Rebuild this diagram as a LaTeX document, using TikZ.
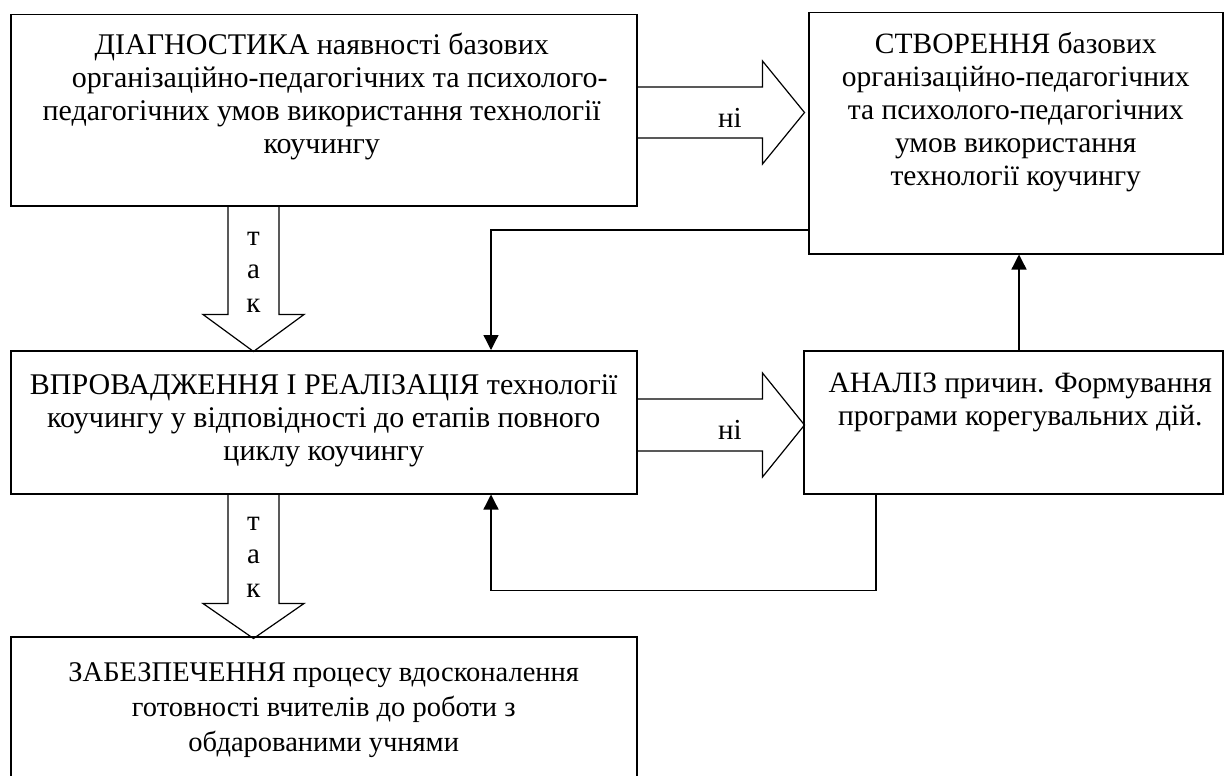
\documentclass[tikz,border=0pt]{standalone}
\usepackage{fontspec}
\setmainfont{Liberation Serif}
\usetikzlibrary{arrows.meta, positioning, calc}

\begin{document}
\begin{tikzpicture}[x=1pt, y=-1pt,
        box/.style={draw=black, line width=1.5pt, inner sep=0pt, anchor=north west},
        boxtext/.style={anchor=north, align=center, inner sep=0pt, font=\fontsize{29.5}{33}\selectfont},
        fat/.style={draw=black, line width=1.2pt, line join=miter},
        lbl/.style={inner sep=0pt, align=center, font=\fontsize{29}{33.5}\selectfont},
        line/.style={-{Triangle[length=15pt, width=15pt]}, line width=1.3pt}
    ]
        \clip (0,0) rectangle (1224,776);

        \node[box, minimum width=626, minimum height=191] (diag) at (10,14) {};
        \node[box, minimum width=414, minimum height=241] (stvor) at (808,12) {};
        \node[box, minimum width=626, minimum height=143] (vprov) at (10,350) {};
        \node[box, minimum width=419, minimum height=143] (analiz) at (803,350) {};
        \node[box, minimum width=626, minimum height=160] (zabez) at (10,636) {};

        \node[boxtext, below=19pt of diag.north, xshift=-2pt, font=\fontsize{30}{33}\selectfont] (diagtxt) {ДІАГНОСТИКА наявності базових\\\hspace*{36pt}організаційно-педагогічних та психолого-\\педагогічних умов використання технології\\коучингу};
        \node[boxtext, below=20pt of stvor.north] (stvortxt) {СТВОРЕННЯ базових\\організаційно-педагогічних\\та психолого-педагогічних\\умов використання\\технології коучингу};
        \node[boxtext, below=24pt of vprov.north, font=\fontsize{30}{33}\selectfont] (vprovtxt) {ВПРОВАДЖЕННЯ І РЕАЛІЗАЦІЯ технології\\коучингу у відповідності до етапів повного\\циклу коучингу};
        \node[boxtext, below=23pt of analiz.north, xshift=7pt] (analiztxt) {АНАЛІЗ причин. Формування\\програми корегувальних дій.};
        \node[boxtext, below=26pt of zabez.north, font=\fontsize{28.5}{35}\selectfont] (zabeztxt) {ЗАБЕЗПЕЧЕННЯ процесу вдосконалення\\готовності вчителів до роботи з\\обдарованими учнями};

        % block arrows
        \draw[fat] (diag.east |- 0,87) -- ++(125,0) -- ++(0,-26) -- ++(42,51.5) -- ++(-42,51.5) -- ++(0,-26) -- ++(-125,0);
        \draw[fat] (vprov.east |- 0,399) -- ++(125,0) -- ++(0,-26) -- ++(42,52) -- ++(-42,52) -- ++(0,-26) -- ++(-125,0);
        \draw[fat] (diag.south -| 228,0) -- ++(0,108) -- ++(-25,0) -- ++(50.5,37) -- ++(50.5,-37) -- ++(-25,0) -- ++(0,-108);
        \draw[fat] (vprov.south -| 228,0) -- ++(0,109) -- ++(-25,0) -- ++(50.5,35) -- ++(50.5,-35) -- ++(-25,0) -- ++(0,-109);

        \node[lbl] (no1) at (730,118) {ні};
        \node[lbl] (no2) at (730,430) {ні};
        \node[lbl] (yes1) at (253.5,272) {т\\а\\к};
        \node[lbl] (yes2) at (253.5,557) {т\\а\\к};

        % feedback lines
        \draw[line] (stvor.west |- 0,230) -| (vprov.north -| 491,0);
        \draw[line] (analiz.south -| 876,0) -- ++(0,96) -| (vprov.south -| 491,0);
        \draw[line] (analiz.north -| 1019,0) -- (stvor.south -| 1019,0);
    \end{tikzpicture}
\end{document}
